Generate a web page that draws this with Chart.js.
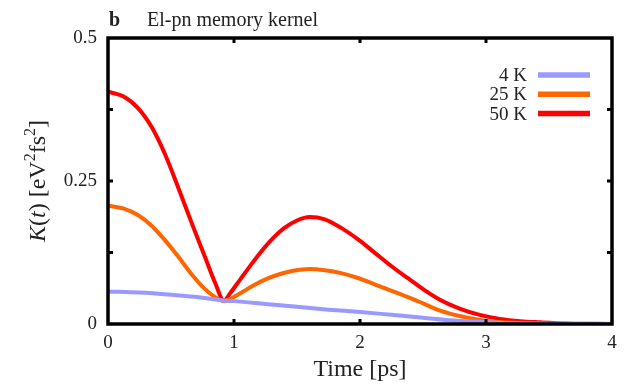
<!DOCTYPE html>
<html>
<head>
<meta charset="utf-8">
<script src="https://cdn.jsdelivr.net/npm/chart.js@4/dist/chart.umd.min.js"></script>
<style>
  html, body { margin: 0; padding: 0; background: #fff; }
  #wrap { width: 627px; height: 385px; }
</style>
</head>
<body>
<div id="wrap"><canvas id="kernel" width="627" height="385"></canvas></div>
<script>
// values: time in ps, K(t) in eV^2 fs^2
const labels4K = "4 K";
const labels25K = "25 K";
const labels50K = "50 K";

const t4K = [0, 0.25, 0.5, 0.75, 0.92, 1.0, 1.25, 1.5, 1.75, 2.0, 2.25, 2.5, 2.75, 3.0, 3.25, 3.5, 4.0];
const k4K = [0.057, 0.055, 0.051, 0.046, 0.041, 0.040, 0.035, 0.030, 0.025, 0.021, 0.016, 0.011, 0.006, 0.003, 0.001, 0.0003, 0];

const t25K = [0, 0.12, 0.24, 0.35, 0.45, 0.56, 0.66, 0.77, 0.85, 0.92, 0.98, 1.06, 1.15, 1.25, 1.36, 1.47, 1.60, 1.72, 1.85, 1.99, 2.12, 2.25, 2.38, 2.50, 2.63, 2.79, 2.95, 3.11, 3.4, 4.0];
const k25K = [0.207, 0.202, 0.190, 0.171, 0.147, 0.117, 0.088, 0.061, 0.047, 0.040, 0.045, 0.055, 0.067, 0.078, 0.087, 0.093, 0.096, 0.094, 0.089, 0.080, 0.069, 0.058, 0.047, 0.036, 0.024, 0.014, 0.007, 0.003, 0.001, 0];

const t50K = [0, 0.12, 0.24, 0.35, 0.45, 0.56, 0.66, 0.77, 0.85, 0.92, 0.97, 1.05, 1.13, 1.21, 1.31, 1.40, 1.50, 1.60, 1.72, 1.85, 1.99, 2.12, 2.25, 2.38, 2.50, 2.63, 2.79, 2.95, 3.11, 3.27, 3.43, 3.64, 4.0];
const k50K = [0.406, 0.398, 0.377, 0.343, 0.298, 0.237, 0.179, 0.117, 0.072, 0.041, 0.054, 0.078, 0.102, 0.125, 0.150, 0.168, 0.181, 0.187, 0.183, 0.168, 0.147, 0.124, 0.101, 0.080, 0.061, 0.043, 0.027, 0.016, 0.009, 0.005, 0.003, 0.001, 0];

const xTickLabels = [0, 1, 2, 3, 4];
const yTickLabels = [0, 0.25, 0.5];
const xMinorTicks = [1, 2, 3];
const yMinorTicks = [0.125, 0.25, 0.375];

const serif = "'Liberation Serif', 'DejaVu Serif', serif";
const ink = "#222";

const toPoints = (ts, ks) => ts.map((t, i) => ({ x: t, y: ks[i] }));

const makeSet = (label, ts, ks, color) => ({
  label,
  data: toPoints(ts, ks),
  borderColor: color,
  borderWidth: 4,
  pointRadius: 0,
  fill: false,
  cubicInterpolationMode: "monotone",
});

// frame, inward ticks, legend, titles
const decorations = {
  id: "decorations",
  afterDatasetsDraw(chart) {
    const { ctx, chartArea: a, scales } = chart;
    ctx.save();
    ctx.strokeStyle = "#000";
    ctx.lineWidth = 3.5;
    ctx.strokeRect(a.left, a.top, a.right - a.left, a.bottom - a.top);

    ctx.lineWidth = 3;
    xMinorTicks.forEach((v) => {
      const px = scales.x.getPixelForValue(v);
      ctx.beginPath();
      ctx.moveTo(px, a.bottom); ctx.lineTo(px, a.bottom - 5);
      ctx.moveTo(px, a.top); ctx.lineTo(px, a.top + 5);
      ctx.stroke();
    });
    yMinorTicks.forEach((v) => {
      const py = scales.y.getPixelForValue(v);
      ctx.beginPath();
      ctx.moveTo(a.left, py); ctx.lineTo(a.left + 5, py);
      ctx.moveTo(a.right, py); ctx.lineTo(a.right - 5, py);
      ctx.stroke();
    });

    // legend: text on the left, line sample on the right
    ctx.font = "19px " + serif;
    ctx.fillStyle = ink;
    ctx.textAlign = "right";
    ctx.textBaseline = "middle";
    chart.data.datasets.forEach((ds, i) => {
      const y = 75 + i * 19.3;
      ctx.fillText(ds.label, 527, y + 1);
      ctx.strokeStyle = ds.borderColor;
      ctx.lineWidth = 5.5;
      ctx.beginPath();
      ctx.moveTo(538, y);
      ctx.lineTo(590, y);
      ctx.stroke();
    });

    // panel title
    ctx.textAlign = "left";
    ctx.textBaseline = "alphabetic";
    ctx.font = "bold 20px " + serif;
    ctx.fillText("b", 109, 26);
    ctx.font = "20px " + serif;
    ctx.fillText("El-pn memory kernel", 147, 26);

    // y axis title with italics and superscripts
    ctx.translate(45, (a.top + a.bottom) / 2);
    ctx.rotate(-Math.PI / 2);
    const parts = [
      { s: "K", f: "italic 24px " + serif, dy: 0 },
      { s: "(", f: "24px " + serif, dy: 0 },
      { s: "t", f: "italic 24px " + serif, dy: 0 },
      { s: ") [eV", f: "24px " + serif, dy: 0 },
      { s: "2", f: "16px " + serif, dy: -10 },
      { s: "fs", f: "24px " + serif, dy: 0 },
      { s: "2", f: "16px " + serif, dy: -10 },
      { s: "]", f: "24px " + serif, dy: 0 },
    ];
    let total = 0;
    parts.forEach((p) => { ctx.font = p.f; p.w = ctx.measureText(p.s).width; total += p.w; });
    let x = -total / 2;
    parts.forEach((p) => {
      ctx.font = p.f;
      ctx.fillText(p.s, x, p.dy);
      x += p.w;
    });
    ctx.restore();
  },
};

new Chart(document.getElementById("kernel").getContext("2d"), {
  type: "line",
  data: {
    datasets: [
      makeSet(labels4K, t4K, k4K, "#9999ff"),
      makeSet(labels25K, t25K, k25K, "#ff6600"),
      makeSet(labels50K, t50K, k50K, "#ff0000"),
    ],
  },
  options: {
    responsive: false,
    animation: false,
    layout: { padding: { top: 38, right: 15, left: 0, bottom: 0 } },
    plugins: { legend: { display: false }, tooltip: { enabled: false } },
    scales: {
      x: {
        type: "linear",
        min: 0,
        max: 4,
        afterBuildTicks: (s) => { s.ticks = xTickLabels.map((v) => ({ value: v })); },
        ticks: { font: { family: serif, size: 19 }, color: ink, padding: 8, maxRotation: 0 },
        grid: { display: false, drawTicks: false },
        border: { display: false },
        title: { display: true, text: "Time [ps]", font: { family: serif, size: 24 }, color: ink, padding: { top: 0, bottom: 1 } },
        afterFit: (s) => { s.height = 61; },
      },
      y: {
        min: 0,
        max: 0.5,
        afterBuildTicks: (s) => { s.ticks = yTickLabels.map((v) => ({ value: v })); },
        ticks: { font: { family: serif, size: 19 }, color: ink, padding: 11, callback: (v) => String(v) },
        grid: { display: false, drawTicks: false },
        border: { display: false },
        afterFit: (s) => { s.width = 108; },
      },
    },
  },
  plugins: [decorations],
});
</script>
</body>
</html>
